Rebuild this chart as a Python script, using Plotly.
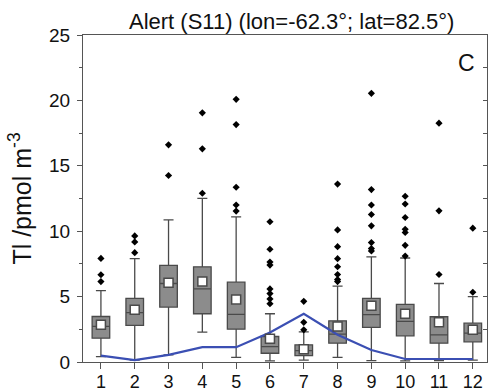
import plotly.graph_objects as go

months = list(range(1, 13))
month_labels = [str(m) for m in months]

q1 = [1.82, 2.80, 4.20, 3.69, 2.51, 0.67, 0.49, 1.44, 2.64, 2.00, 1.44, 1.54]
median = [2.72, 3.77, 6.00, 5.59, 3.64, 1.18, 0.87, 2.13, 3.62, 3.10, 2.08, 2.20]
q3 = [3.48, 4.87, 7.38, 7.28, 6.10, 1.95, 1.31, 3.15, 4.87, 4.41, 3.46, 2.97]
lower_whisker = [0.41, 0.15, 0.54, 2.28, 0.36, 0.08, 0.15, 0.36, 0.10, 0.08, 0.10, 0.15]
upper_whisker = [5.46, 7.90, 10.87, 12.51, 11.10, 3.69, 2.31, 5.80, 8.03, 7.95, 6.00, 5.00]
mean = [2.85, 4.00, 6.05, 6.15, 4.77, 1.77, 0.97, 2.72, 4.31, 3.69, 3.03, 2.46]

outliers = [
    [6.15, 6.67, 7.92],
    [8.36, 9.18, 9.64],
    [14.26, 16.6],
    [12.9, 16.3, 19.05],
    [11.54, 12.0, 13.36, 18.15, 20.08],
    [4.46, 4.82, 5.23, 5.59, 7.41, 7.64, 8.62, 10.72],
    [2.46, 3.03, 4.64],
    [6.15, 6.30, 6.69, 7.28, 7.90, 8.82, 10.1, 13.6],
    [8.49, 8.67, 9.13, 10.41, 11.28, 12.0, 13.18, 20.54],
    [8.10, 8.92, 9.90, 10.15, 11.05, 12.08, 12.67],
    [6.69, 11.56, 18.26],
    [5.33, 10.23],
]

model_line = [0.49, 0.15, 0.54, 1.13, 1.13, 2.26, 3.69, 2.08, 0.92, 0.23, 0.23, 0.23]

title_text = "Alert (S11) (lon=-62.3°; lat=82.5°)"
panel_label = "C"

out_x = [m for m, vals in zip(months, outliers) for _ in vals]
out_y = [v for vals in outliers for v in vals]

fig = go.Figure()

fig.add_trace(go.Box(
    x=months, q1=q1, median=median, q3=q3,
    lowerfence=lower_whisker, upperfence=upper_whisker,
    width=0.52, whiskerwidth=0.57,
    fillcolor="#8c8c8c",
    line=dict(color="#4a4a4a", width=1.3),
    boxpoints=False, showlegend=False, hoverinfo="skip",
))

fig.add_trace(go.Scatter(
    x=out_x, y=out_y, mode="markers",
    marker=dict(symbol="diamond", size=5.5, color="black"),
    showlegend=False, hoverinfo="skip",
))

fig.add_trace(go.Scatter(
    x=months, y=model_line, mode="lines",
    line=dict(color="#3b4fb3", width=2.2),
    showlegend=False, hoverinfo="skip",
))

fig.add_trace(go.Scatter(
    x=months, y=mean, mode="markers",
    marker=dict(symbol="square", size=9, color="white",
                line=dict(color="#4a4a4a", width=1.5)),
    showlegend=False, hoverinfo="skip",
))

# helper trace for right-side inner ticks
fig.add_trace(go.Scatter(x=[1], y=[0], yaxis="y2", mode="markers",
                         marker=dict(opacity=0), showlegend=False, hoverinfo="skip"))

axis_font = dict(family="Liberation Sans, Arial", size=19, color="#111")
xtick_font = dict(family="Liberation Sans, Arial", size=18, color="#111")

fig.update_layout(
    width=490, height=391,
    margin=dict(l=83, r=3, t=35, b=29, autoexpand=False),
    plot_bgcolor="white", paper_bgcolor="white",
    showlegend=False,
    xaxis=dict(
        range=[0.47, 12.42],
        tickmode="array", tickvals=months, ticktext=month_labels,
        ticks="outside", ticklen=6, tickcolor="#555", tickwidth=1,
        showline=True, linecolor="#555", linewidth=1, mirror=True,
        showgrid=False, zeroline=False, automargin=False,
        tickfont=xtick_font, ticklabelstandoff=-3,
    ),
    yaxis=dict(
        range=[0, 25], dtick=5, tick0=0,
        ticks="outside", ticklen=5, tickcolor="#555", tickwidth=1,
        minor=dict(dtick=2.5, ticks="outside", ticklen=3, tickcolor="#555"),
        showline=True, linecolor="#555", linewidth=1, mirror=True,
        showgrid=False, zeroline=False, automargin=False,
        tickfont=axis_font, ticklabelstandoff=3,
        title=dict(text="Tl /pmol m<sup>-3</sup>",
                   font=dict(family="Liberation Sans, Arial", size=25, color="#111"),
                   standoff=10),
    ),
    yaxis2=dict(
        overlaying="y", side="right", range=[0, 25],
        tickmode="linear", tick0=0, dtick=2.5,
        ticks="inside", ticklen=4, tickcolor="#555", automargin=False,
        showticklabels=False, showgrid=False, showline=False, zeroline=False,
    ),
    annotations=[
        dict(text=title_text, xref="paper", yref="paper",
             x=0.517, y=1.0, xanchor="center", yanchor="bottom", yshift=-1,
             showarrow=False,
             font=dict(family="Liberation Sans, Arial", size=22, color="#111")),
        dict(text=panel_label, xref="paper", yref="paper",
             x=0.95, y=0.915, xanchor="center", yanchor="middle",
             showarrow=False,
             font=dict(family="Liberation Sans, Arial", size=23, color="#111")),
    ],
)

fig.write_html("out.html")
